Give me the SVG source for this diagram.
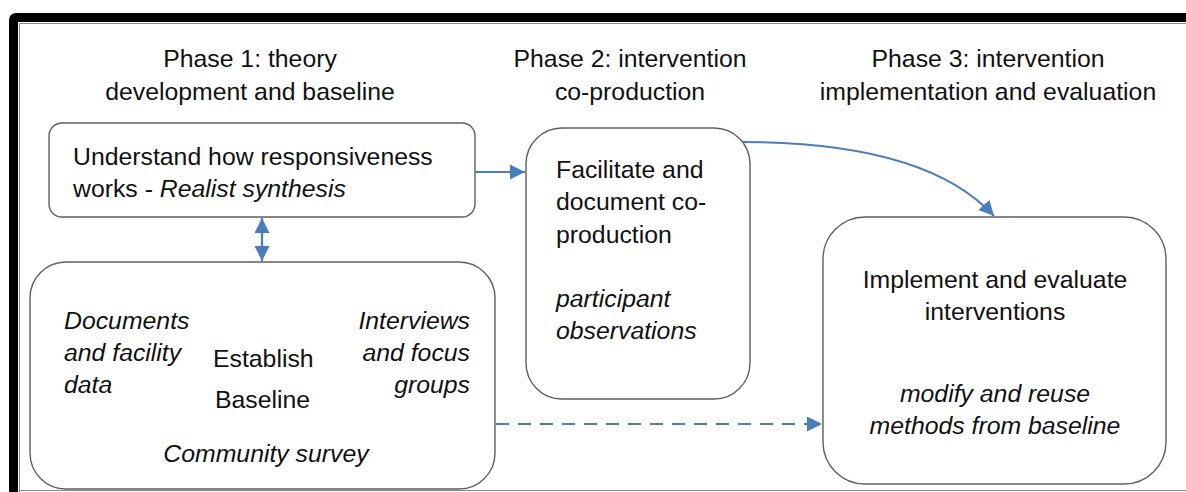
<svg xmlns="http://www.w3.org/2000/svg" width="1186" height="492" viewBox="0 0 1186 492">
<defs>
<marker id="ah" viewBox="0 0 10 10" refX="10" refY="5" markerWidth="15" markerHeight="15" markerUnits="userSpaceOnUse" orient="auto-start-reverse">
<path d="M0,0 L10,5 L0,10 Z" fill="#4a7ebb"/>
</marker>
</defs>
<style>
.t{font-family:"Liberation Sans",Arial,Helvetica,sans-serif;font-size:24.8px;fill:#111}
.i{font-style:italic}
.m{text-anchor:middle}
.e{text-anchor:end}
.box{fill:#fff;stroke:#5f5f5f;stroke-width:1.4}
.con{fill:none;stroke:#4a7ebb;stroke-width:2.2}
</style>
<rect x="0" y="0" width="1186" height="492" fill="#fff"/>
<path d="M13.5,492 V20 Q13.5,17.5 16,17.5 H1186" fill="none" stroke="#000" stroke-width="9"/>
<path d="M19.5,492 V23.5 H1186" fill="none" stroke="#888" stroke-width="1"/>
<line x1="19" y1="490.5" x2="1186" y2="490.5" stroke="#888" stroke-width="1"/>

<g id="headers">
<text class="t m" x="250" y="67">Phase 1: theory</text>
<text class="t m" x="250" y="100">development and baseline</text>
<text class="t m" x="630" y="67">Phase 2: intervention</text>
<text class="t m" x="630" y="100">co-production</text>
<text class="t m" x="988" y="67">Phase 3: intervention</text>
<text class="t m" x="988" y="100">implementation and evaluation</text>
</g>

<g id="node-realist">
<rect class="box" x="49" y="123" width="426" height="94" rx="13"/>
<text class="t" x="73" y="165">Understand how responsiveness</text>
<text class="t" x="73" y="197">works - <tspan class="i">Realist synthesis</tspan></text>
</g>

<g id="node-baseline">
<rect class="box" x="30" y="262" width="465" height="227" rx="36"/>
<text class="t i" x="64" y="329">Documents</text>
<text class="t i" x="64" y="361">and facility</text>
<text class="t i" x="64" y="393">data</text>
<text class="t" x="213" y="367">Establish</text>
<text class="t" x="215" y="408">Baseline</text>
<text class="t i e" x="470" y="329">Interviews</text>
<text class="t i e" x="470" y="361">and focus</text>
<text class="t i e" x="470" y="393">groups</text>
<text class="t i m" x="266" y="462">Community survey</text>
</g>

<g id="node-coproduction">
<rect class="box" x="526" y="128" width="224" height="271" rx="36"/>
<text class="t" x="556" y="178">Facilitate and</text>
<text class="t" x="556" y="210">document co-</text>
<text class="t" x="556" y="243">production</text>
<text class="t i" x="556" y="307">participant</text>
<text class="t i" x="556" y="339">observations</text>
</g>

<g id="node-implement">
<rect class="box" x="823" y="217" width="343" height="267" rx="42"/>
<text class="t m" x="995" y="288">Implement and evaluate</text>
<text class="t m" x="995" y="320">interventions</text>
<text class="t i m" x="995" y="402">modify and reuse</text>
<text class="t i m" x="995" y="434">methods from baseline</text>
</g>

<g id="connectors">
<line class="con" x1="475" y1="172" x2="525" y2="172" marker-end="url(#ah)"/>
<line class="con" x1="262" y1="218" x2="262" y2="261" marker-start="url(#ah)" marker-end="url(#ah)"/>
<path class="con" d="M742,142 C870,142 950,168 994,216" marker-end="url(#ah)"/>
<line class="con" x1="496" y1="424" x2="822" y2="424" stroke-dasharray="13,9" marker-end="url(#ah)"/>
</g>
</svg>
